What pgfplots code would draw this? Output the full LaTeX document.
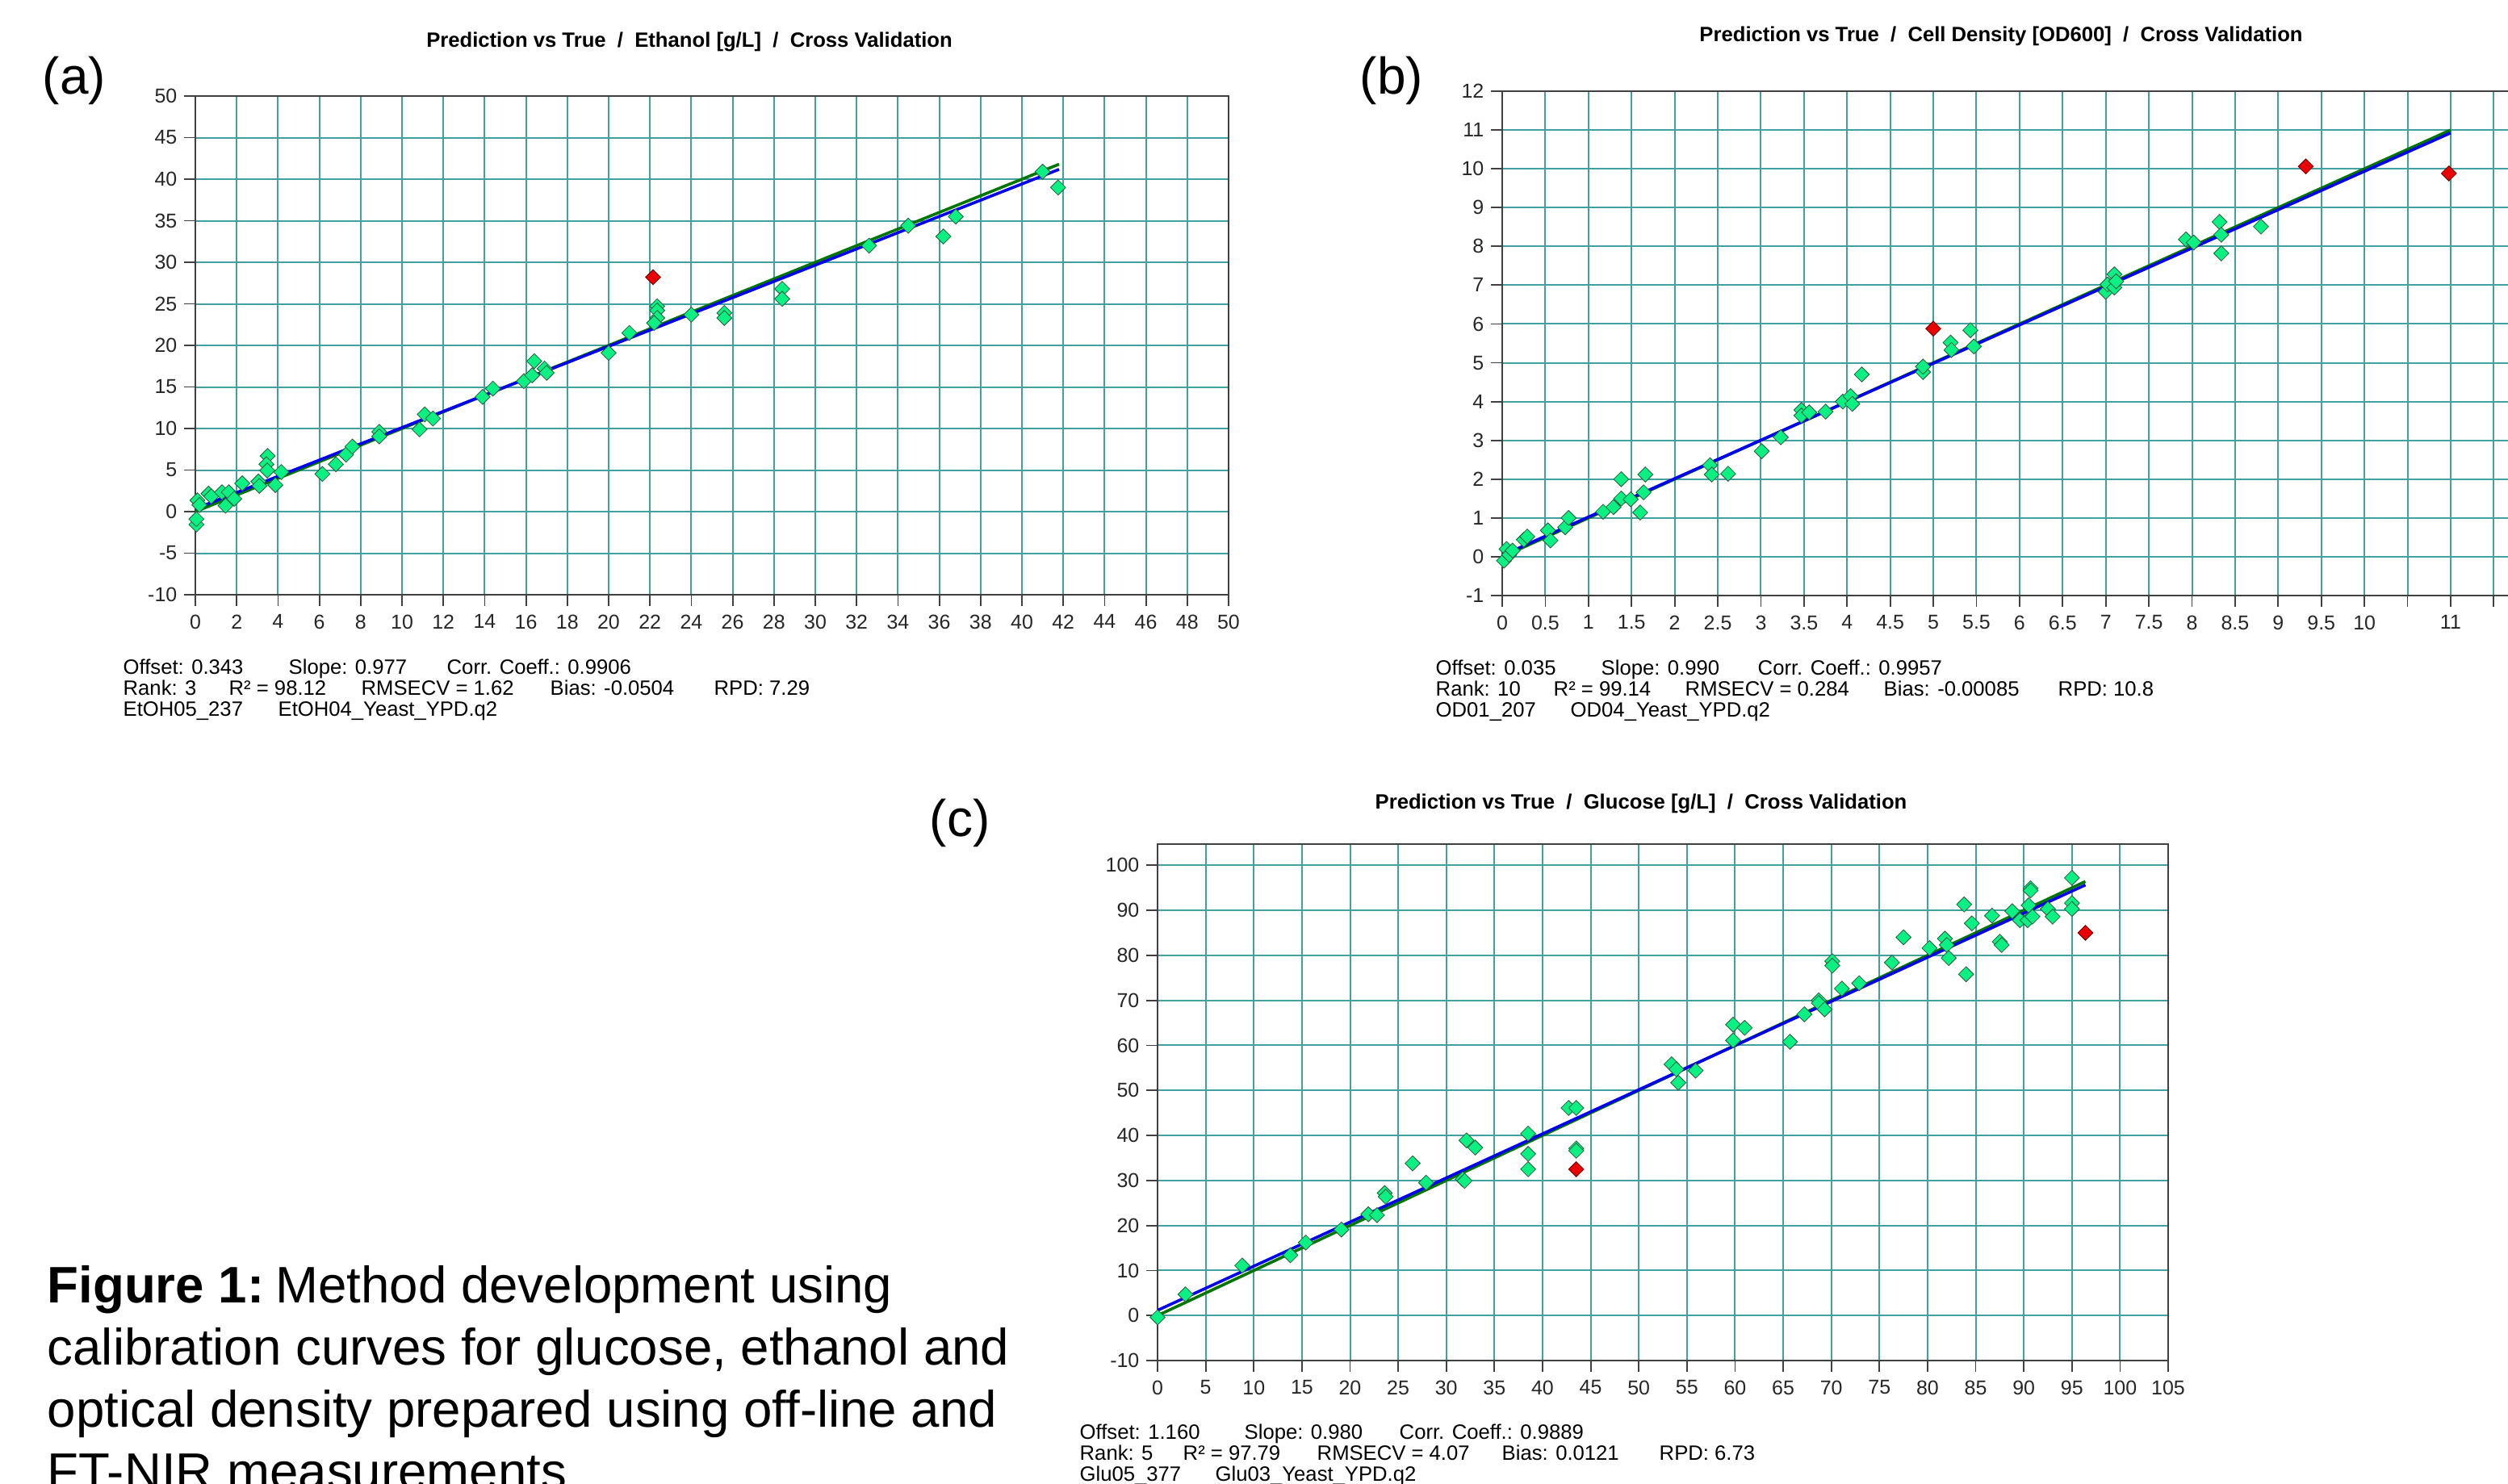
\documentclass[border=0pt]{standalone}
\usepackage{fontspec}
\setmainfont{Liberation Sans}
\usepackage{pgfplots}
\pgfplotsset{compat=1.18}

\definecolor{gridteal}{RGB}{66,160,160}
\definecolor{ptfill}{RGB}{10,240,130}
\definecolor{ptedge}{RGB}{40,90,60}
\definecolor{ptred}{RGB}{235,0,0}
\definecolor{linegreen}{RGB}{0,118,0}
\definecolor{lineblue}{RGB}{0,0,235}

\newcommand{\statfont}{\fontsize{7.3}{8.5}\selectfont}
\newcommand{\titlefont}{\bfseries\fontsize{7.3}{8.5}\selectfont}

\pgfplotsset{
  nir/.style={
    scale only axis, anchor=north west,
    axis line style={draw=black!75, line width=0.18mm},
    grid=major,
    major grid style={draw=gridteal, line width=0.2mm},
    tick pos=left, tick align=outside,
    major tick length=1.4mm,
    every tick/.style={black!75, line width=0.18mm},
    tick label style={font=\fontsize{7.1}{8}\selectfont, text=black!85, inner sep=0pt},
    xticklabel style={yshift=-1.0mm},
    yticklabel style={xshift=-0.8mm},
    /pgf/number format/assume math mode=true,
  },
  ok/.style={only marks, mark=square*, mark size=0.66mm,
    mark options={rotate=45, fill=ptfill, draw=ptedge, line width=0.08mm}},
  bad/.style={only marks, mark=square*, mark size=0.66mm,
    mark options={rotate=45, fill=ptred, draw=black!60!red, line width=0.08mm}},
  target/.style={linegreen, line width=0.36mm},
  fit/.style={lineblue, line width=0.36mm},
}

\tikzset{stat/.style={anchor=base west, inner sep=0pt, font=\statfont}}

\begin{document}
\begin{tikzpicture}
\useasboundingbox (0,0) rectangle (310.7mm,-183.8mm);

% ---------- (a) ethanol ----------
\node[anchor=west, inner sep=0pt, font=\fontsize{18.2}{21}\selectfont] at (5.2mm,-10.0mm) {(a)};
\node[anchor=base, font=\titlefont] at (85.4mm,-5.8mm)
  {Prediction vs True\ \ /\ \ Ethanol [g/L]\ \ /\ \ Cross Validation};
\begin{axis}[nir, at={(24.2mm,-11.9mm)}, width=128mm, height=61.8mm,
  xmin=0, xmax=50, ymin=-10, ymax=50,
  xtick={0,2,...,50}, ytick={-10,-5,...,50}]
\addplot[ok] coordinates {
  (0.05,-1.55) (0.05,-0.9) (0.1,1.36) (0.2,0.8) (0.64,2.17) (0.77,1.84)
  (1.29,2.33) (1.46,0.71) (1.62,2.33) (1.88,1.55) (2.27,3.4) (3.05,3.62)
  (3.1,3.1) (3.5,6.7) (3.44,5.7) (3.48,4.95) (3.87,3.2) (4.16,4.76)
  (6.15,4.53) (6.8,5.7) (7.29,6.86) (7.6,7.83) (8.9,9.6) (8.9,9.05)
  (10.85,9.9) (11.1,11.7) (11.5,11.2) (13.9,13.8) (14.4,14.8) (15.9,15.7)
  (16.3,16.4) (16.4,18.1) (16.9,17.2) (17.0,16.7) (20.0,19.1) (21.0,21.5)
  (22.35,24.7) (22.35,24.2) (22.35,23.3) (22.2,22.7) (24.0,23.7)
  (25.6,23.9) (25.6,23.3) (28.4,26.8) (28.4,25.6) (32.6,32.0) (34.5,34.4)
  (36.2,33.1) (36.8,35.5) (41.0,40.9) (41.75,39.0)
};
\addplot[bad] coordinates {(22.15,28.2)};
\addplot[target] coordinates {(0,0) (41.8,41.8)};
\addplot[fit] coordinates {(0,0.343) (41.8,41.18)};
\end{axis}
\node[stat] at (15.2mm,-83.5mm) {Offset: 0.343};
\node[stat] at (35.7mm,-83.5mm) {Slope: 0.977};
\node[stat] at (55.3mm,-83.5mm) {Corr. Coeff.: 0.9906};
\node[stat] at (15.2mm,-86.1mm) {Rank: 3};
\node[stat] at (28.3mm,-86.1mm) {R² = 98.12};
\node[stat] at (44.7mm,-86.1mm) {RMSECV = 1.62};
\node[stat] at (68.1mm,-86.1mm) {Bias: -0.0504};
\node[stat] at (88.4mm,-86.1mm) {RPD: 7.29};
\node[stat] at (15.2mm,-88.7mm) {EtOH05\_237};
\node[stat] at (34.4mm,-88.7mm) {EtOH04\_Yeast\_YPD.q2};

% ---------- (b) cell density ----------
\node[anchor=west, inner sep=0pt, font=\fontsize{18.2}{21}\selectfont] at (168.4mm,-10.0mm) {(b)};
\node[anchor=base, font=\titlefont] at (247.9mm,-5.1mm)
  {Prediction vs True\ \ /\ \ Cell Density [OD600]\ \ /\ \ Cross Validation};
\begin{axis}[nir, at={(186.1mm,-11.3mm)}, width=125.5mm, height=62.5mm,
  xmin=0, xmax=11.75, ymin=-1, ymax=12,
  xtick={0,0.5,...,11.5},
  xticklabels={0,0.5,1,1.5,2,2.5,3,3.5,4,4.5,5,5.5,6,6.5,7,7.5,8,8.5,9,9.5,10,,11,},
  ytick={-1,0,...,12}]
\addplot[ok] coordinates {
  (0.02,-0.1) (0.05,0.2) (0.08,0.05) (0.12,0.16) (0.25,0.44) (0.29,0.52)
  (0.53,0.68) (0.56,0.42) (0.73,0.76) (0.77,1.0) (1.17,1.16) (1.29,1.28)
  (1.38,1.5) (1.38,2.0) (1.49,1.48) (1.6,1.14) (1.66,2.12) (1.64,1.66)
  (2.41,2.36) (2.43,2.12) (2.62,2.14) (3.01,2.72) (3.23,3.08) (3.47,3.78)
  (3.47,3.64) (3.56,3.72) (3.75,3.74) (3.95,4.0) (4.04,4.14) (4.06,3.94)
  (4.17,4.7) (4.88,4.76) (4.88,4.9) (5.2,5.52) (5.21,5.33) (5.43,5.84)
  (5.47,5.42) (7.0,6.83) (7.02,7.02) (7.1,7.28) (7.1,6.94) (7.12,7.1)
  (7.93,8.18) (8.02,8.1) (8.32,8.63) (8.34,8.3) (8.34,7.82) (8.8,8.51)
};
\addplot[bad] coordinates {(5.0,5.88) (9.32,10.06) (10.98,9.88)};
\addplot[target] coordinates {(0,0) (11,11)};
\addplot[fit] coordinates {(0,0.035) (11,10.925)};
\end{axis}
\node[stat] at (177.8mm,-83.6mm) {Offset: 0.035};
\node[stat] at (198.3mm,-83.6mm) {Slope: 0.990};
\node[stat] at (217.7mm,-83.6mm) {Corr. Coeff.: 0.9957};
\node[stat] at (177.8mm,-86.2mm) {Rank: 10};
\node[stat] at (192.4mm,-86.2mm) {R² = 99.14};
\node[stat] at (208.7mm,-86.2mm) {RMSECV = 0.284};
\node[stat] at (233.3mm,-86.2mm) {Bias: -0.00085};
\node[stat] at (254.9mm,-86.2mm) {RPD: 10.8};
\node[stat] at (177.8mm,-88.8mm) {OD01\_207};
\node[stat] at (194.5mm,-88.8mm) {OD04\_Yeast\_YPD.q2};

% ---------- (c) glucose ----------
\node[anchor=west, inner sep=0pt, font=\fontsize{18.2}{21}\selectfont] at (115.1mm,-102.0mm) {(c)};
\node[anchor=base, font=\titlefont] at (203.3mm,-100.2mm)
  {Prediction vs True\ \ /\ \ Glucose [g/L]\ \ /\ \ Cross Validation};
\begin{axis}[nir, at={(143.4mm,-104.6mm)}, width=125.2mm, height=64.0mm,
  xmin=0, xmax=105, ymin=-10, ymax=104.7,
  xtick={0,5,...,105}, ytick={-10,0,...,100}]
\addplot[ok] coordinates {
  (0,-0.4) (2.9,4.7) (8.8,11.1) (13.8,13.4) (15.4,16.2) (19.1,19.1)
  (21.9,22.5) (22.8,22.3) (23.6,27.2) (23.7,26.4) (26.5,33.8) (27.9,29.5)
  (31.7,30.3) (31.9,29.9) (32.1,38.9) (33.0,37.3) (38.5,40.4) (38.5,35.9)
  (38.5,32.5) (42.7,46.1) (43.5,46.1) (43.5,37.1) (43.5,36.6) (53.4,55.8)
  (53.9,54.7) (54.1,51.7) (55.9,54.4) (59.8,64.6) (59.8,61.1) (61.0,63.9)
  (65.7,60.8) (67.2,66.9) (68.7,70.0) (68.7,69.4) (69.3,68.0) (70.1,78.7)
  (70.1,77.7) (71.1,72.6) (72.9,73.8) (76.3,78.4) (77.5,84.0) (80.2,81.6)
  (81.8,83.7) (82.0,82.3) (82.2,79.4) (83.8,91.3) (84.0,75.8) (84.6,87.1)
  (86.7,88.8) (87.5,83.0) (87.7,82.3) (88.8,89.8) (89.6,87.8) (90.4,87.8)
  (90.7,94.9) (90.7,94.4) (90.5,91.1) (90.9,88.6) (92.5,90.3) (93.0,88.6)
  (95.0,97.2) (95.0,91.6) (95.0,90.3)
};
\addplot[bad] coordinates {(43.5,32.5) (96.4,85.0)};
\addplot[target] coordinates {(0,0) (96.4,96.4)};
\addplot[fit] coordinates {(0,1.16) (96.4,95.63)};
\end{axis}
\node[stat] at (133.7mm,-178.3mm) {Offset: 1.160};
\node[stat] at (154.1mm,-178.3mm) {Slope: 0.980};
\node[stat] at (173.3mm,-178.3mm) {Corr. Coeff.: 0.9889};
\node[stat] at (133.7mm,-180.9mm) {Rank: 5};
\node[stat] at (146.5mm,-180.9mm) {R² = 97.79};
\node[stat] at (163.1mm,-180.9mm) {RMSECV = 4.07};
\node[stat] at (186.0mm,-180.9mm) {Bias: 0.0121};
\node[stat] at (205.5mm,-180.9mm) {RPD: 6.73};
\node[stat] at (133.7mm,-183.5mm) {Glu05\_377};
\node[stat] at (150.5mm,-183.5mm) {Glu03\_Yeast\_YPD.q2};

% ---------- caption (last line is cut by the page edge, as in the source) ----------
\begin{scope}[every node/.style={anchor=base west, inner sep=0pt, font=\fontsize{18.1}{21.7}\selectfont}]
\node at (5.8mm,-161.4mm) {\textbf{Figure 1:}\hspace{-0.15em} Method development using};
\node at (5.8mm,-169.1mm) {calibration curves for glucose, ethanol and};
\node at (5.8mm,-176.8mm) {optical density prepared using off-line and};
\node at (5.8mm,-184.5mm) {FT-NIR measurements};
\end{scope}
\end{tikzpicture}
\end{document}
